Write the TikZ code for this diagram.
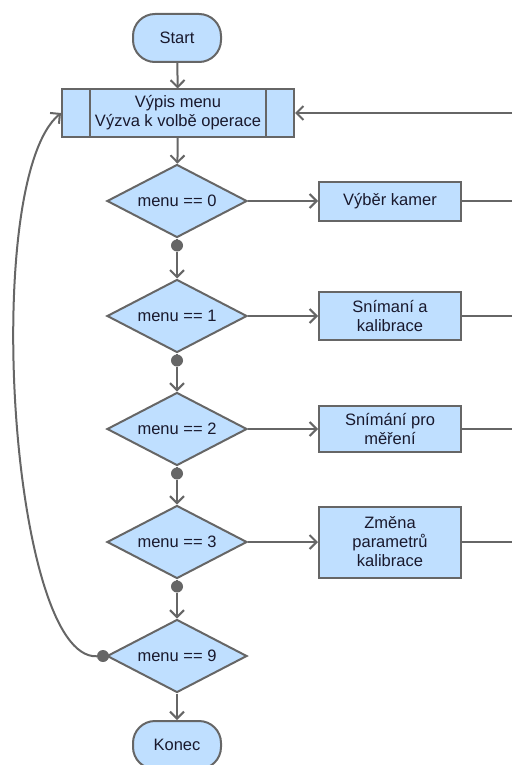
\documentclass[tikz,border=0pt]{standalone}
\usepackage{fontspec}
\setmainfont{Liberation Sans}
\usepackage{xcolor}
\definecolor{box-blue}{RGB}{191,223,255}
\definecolor{edge-gray}{RGB}{102,102,102}
\definecolor{text-dark}{RGB}{25,25,45}
\usetikzlibrary{shapes.geometric,arrows.meta}

\begin{document}
\begin{tikzpicture}[x=1pt,y=-1pt,>={Straight Barb[length=7pt,width=14pt]},
	every node/.style={font=\fontsize{16.5}{19}\selectfont,text=text-dark},
	base/.style={draw=edge-gray,fill=box-blue,line width=2pt},
	term/.style={base,rounded corners=22pt,minimum width=88pt,minimum height=48pt},
	proc/.style={base,minimum width=142pt,align=center},
	cond/.style={base,diamond,minimum width=140pt,minimum height=73pt,inner sep=0pt,aspect=2},
	dot/.style={circle,fill=edge-gray,inner sep=0pt,minimum size=12pt},
	line/.style={edge-gray,line width=2pt}]
	\useasboundingbox (0,0) rectangle (512,765);
	\clip (0,0) rectangle (512,765);
	
	\node[term] (start) at (177,38) {Start};
	\node[proc,minimum width=232pt,minimum height=47pt] (vypis) at (178,113) {Výpis menu\\Výzva k volbě operace};
	\draw[line] ([xshift=29pt]vypis.north west)--([xshift=29pt]vypis.south west)
		([xshift=-29pt]vypis.north east)--([xshift=-29pt]vypis.south east);
	\foreach \i/\y in {0/201,1/316,2/429,3/542,9/656}
		\node[cond] (d\i) at (177,\y) {menu == \i};
	\foreach \i in {0,...,3}
		\node[dot] (p\i) at ([yshift=-7pt]d\i.south) {};
	\node[dot] (p9) at (103,656) {};
	\node[term] (konec) at (177,745) {Konec};
	
	\node[proc,minimum height=39pt] (kam) at (390,201) {Výběr kamer};
	\node[proc,minimum height=48pt] (kal) at (390,316) {Snímaní a\\kalibrace};
	\node[proc,minimum height=46pt] (mer) at (390,429) {Snímání pro\\měření};
	\node[proc,minimum height=71pt] (par) at (390,542) {Změna\\parametrů\\kalibrace};
	\foreach \n/\y in {0/201,1/316,2/429,3/542}
		\coordinate (e\n) at (512,\y);
	\coordinate (ev) at (512,113);
	
	\draw[line,->] (start)--(vypis);
	\draw[line,->] (vypis)--(d0);
	\draw[line] (d0)--(p0);
	\draw[line,->] (p0)--(d1);
	\draw[line] (d1)--(p1);
	\draw[line,->] (p1)--(d2);
	\draw[line] (d2)--(p2);
	\draw[line,->] (p2)--(d3);
	\draw[line] (d3)--(p3);
	\draw[line,->] (p3)--(d9);
	\draw[line,->] (d9)--(konec);
	\draw[line] (d9)--(p9);
	\draw[line,->] (p9) .. controls (10,660) and (-20,180) .. (vypis.west);
	
	\draw[line,->] (d0.east)--(kam);
	\draw[line,->] (d1.east)--(kal);
	\draw[line,->] (d2.east)--(mer);
	\draw[line,->] (d3.east)--(par);
	\draw[line] (kam)--(e0) (kal)--(e1) (mer)--(e2) (par)--(e3);
	\draw[line,->] (ev)--(vypis);
\end{tikzpicture}
\end{document}
